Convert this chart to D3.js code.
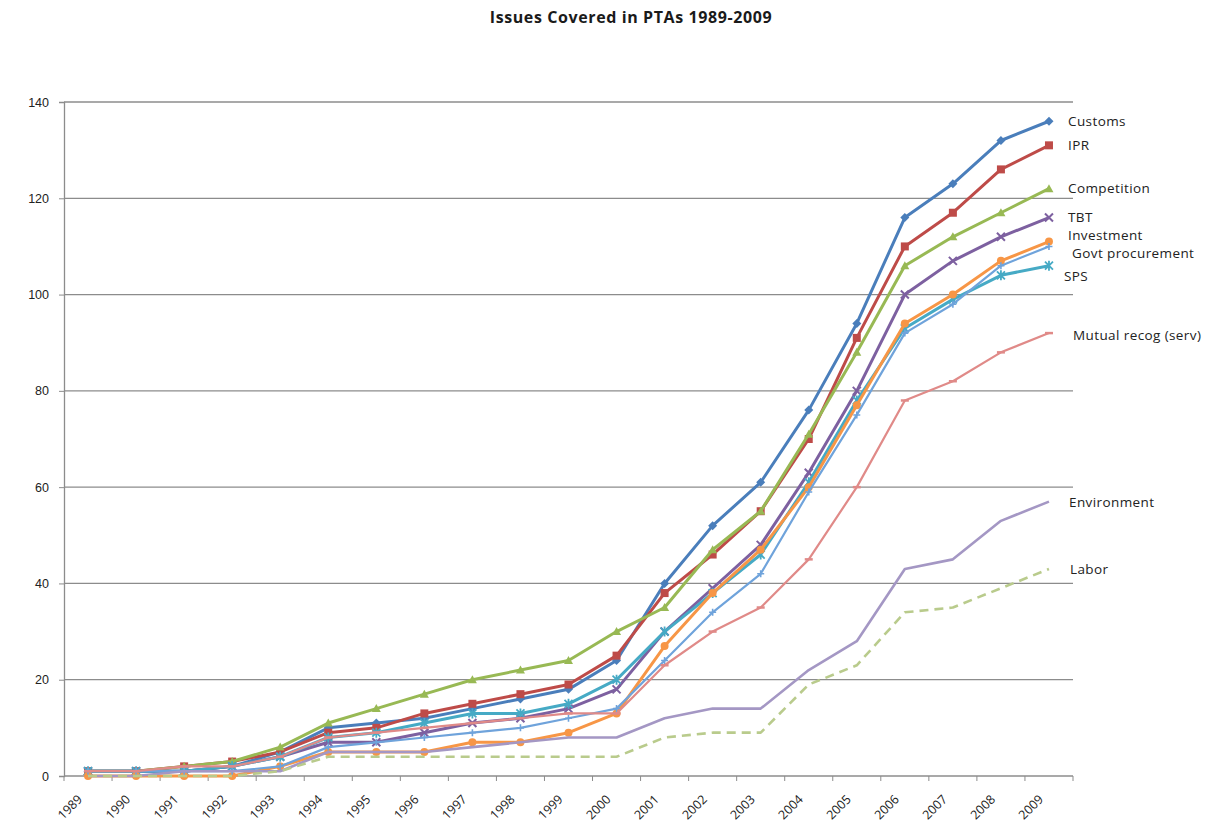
<!DOCTYPE html>
<html>
<head>
<meta charset="utf-8">
<script src="https://cdn.jsdelivr.net/npm/d3@7"></script>
<style>
  html, body { margin: 0; padding: 0; background: #ffffff; }
  svg { display: block; font-family: "Open Sans", "Liberation Sans", sans-serif; }
</style>
</head>
<body>
<svg id="chart" width="1207" height="831"></svg>
<script>
// Number of PTAs covering each issue, by year
const years = ["1989","1990","1991","1992","1993","1994","1995","1996","1997","1998","1999",
               "2000","2001","2002","2003","2004","2005","2006","2007","2008","2009"];

const customs     = [1,1,1,2,5,10,11,12,14,16,18,24,40,52,61,76,94,116,123,132,136];
const ipr         = [1,1,2,3,5,9,10,13,15,17,19,25,38,46,55,70,91,110,117,126,131];
const competition = [1,1,2,3,6,11,14,17,20,22,24,30,35,47,55,71,88,106,112,117,122];
const tbt         = [1,1,1,2,4,7,7,9,11,12,14,18,30,39,48,63,80,100,107,112,116];
const sps         = [1,1,1,2,4,8,9,11,13,13,15,20,30,38,46,61,78,93,99,104,106];
const investment  = [0,0,0,0,2,5,5,5,7,7,9,13,27,38,47,60,77,94,100,107,111];
const govtProc    = [1,1,1,1,2,6,7,8,9,10,12,14,24,34,42,59,75,92,98,106,110];
const mutualRecog = [1,1,2,2,4,8,9,10,11,12,13,13,23,30,35,45,60,78,82,88,92];
const environment = [0,0,1,1,1,5,5,5,6,7,8,8,12,14,14,22,28,43,45,53,57];
const labor       = [0,0,0,0,1,4,4,4,4,4,4,4,8,9,9,19,23,34,35,39,43];

const seriesNames = ["Customs","IPR","Competition","TBT","SPS","Investment",
                     "Govt procurement","Mutual recog (serv)","Environment","Labor"];
const seriesValues = [customs, ipr, competition, tbt, sps, investment,
                      govtProc, mutualRecog, environment, labor];

const yTicks = [0,20,40,60,80,100,120,140];
const title = "Issues Covered in PTAs 1989-2009";

// Styling per series
const styles = {
  "Customs":             {color:"#4a7ebb", width:3,   marker:"diamond"},
  "IPR":                 {color:"#be4b48", width:3,   marker:"square"},
  "Competition":         {color:"#98b954", width:3,   marker:"triangle"},
  "TBT":                 {color:"#7d60a0", width:3,   marker:"x"},
  "SPS":                 {color:"#46aac5", width:3,   marker:"star"},
  "Investment":          {color:"#f79646", width:3,   marker:"circle"},
  "Govt procurement":    {color:"#6fa3db", width:2.2, marker:"plus"},
  "Mutual recog (serv)": {color:"#e08a88", width:2.2, marker:"dash"},
  "Environment":         {color:"#a497c4", width:2.6, marker:"none"},
  "Labor":               {color:"#b9cb8c", width:2.6, marker:"none", dash:"9,6"}
};
// Vertical / horizontal nudges of the end labels where they would collide
const labelNudge = {"Investment":-6, "Govt procurement":7, "SPS":11, "Mutual recog (serv)":2, "Environment":1};
const labelDx = {"Govt procurement":4, "SPS":-4, "Mutual recog (serv)":5, "Environment":1, "Labor":2};

const svg = d3.select("#chart");
const margin = {left:64, right:134, top:102, bottom:55};
const W = 1207, H = 831;

const x = d3.scaleBand().domain(years).range([margin.left, W - margin.right]);
const y = d3.scaleLinear().domain([0,140]).range([H - margin.bottom, margin.top]);

// Title
svg.append("text")
  .attr("x", 631).attr("y", 23)
  .attr("text-anchor","middle")
  .attr("font-weight","bold")
  .attr("font-size", 16)
  .attr("letter-spacing", 0.6)
  .attr("fill","#1a1a1a")
  .text(title);

// Horizontal gridlines
svg.append("g")
  .selectAll("line")
  .data(yTicks.filter(d => d > 0))
  .join("line")
  .attr("x1", margin.left).attr("x2", W - margin.right)
  .attr("y1", d => y(d)).attr("y2", d => y(d))
  .attr("stroke","#8c8c8c").attr("stroke-width",1.3);

// Y axis
const yAxis = svg.append("g")
  .attr("transform", `translate(${margin.left},0)`)
  .call(d3.axisLeft(y).tickValues(yTicks).tickSize(5).tickPadding(10));
yAxis.select(".domain").attr("stroke","#8c8c8c").attr("stroke-width",1.3);
yAxis.selectAll(".tick line").attr("stroke","#8c8c8c");
yAxis.selectAll("text").attr("font-size",12.5).attr("fill","#222");

// X axis with ticks between categories
const xAxisG = svg.append("g")
  .attr("transform", `translate(0,${y(0)})`);
xAxisG.append("line")
  .attr("x1", margin.left).attr("x2", W - margin.right)
  .attr("stroke","#8c8c8c").attr("stroke-width",1.3);
const boundaries = years.map(yr => x(yr)).concat([x(years[years.length-1]) + x.bandwidth()]);
xAxisG.selectAll("line.tk")
  .data(boundaries)
  .join("line").attr("class","tk")
  .attr("x1", d => d).attr("x2", d => d)
  .attr("y1", 0).attr("y2", 5)
  .attr("stroke","#8c8c8c");
xAxisG.selectAll("text")
  .data(years)
  .join("text")
  .attr("transform", d => `translate(${x(d) + x.bandwidth()/2 - 8},${21}) rotate(-45)`)
  .attr("text-anchor","end")
  .attr("dy","0.35em")
  .attr("font-size",12.5)
  .attr("fill","#222")
  .text(d => d);

// Lines
const cx = yr => x(yr) + x.bandwidth()/2;
const line = d3.line().x((d,i) => cx(years[i])).y(d => y(d));

const seriesG = svg.append("g");
seriesNames.forEach((name, si) => {
  const st = styles[name];
  const vals = seriesValues[si];
  const g = seriesG.append("g");
  g.append("path")
    .datum(vals)
    .attr("d", line)
    .attr("fill","none")
    .attr("stroke", st.color)
    .attr("stroke-width", st.width)
    .attr("stroke-linejoin","round")
    .attr("stroke-dasharray", st.dash || null);

  const pts = vals.map((v,i) => [cx(years[i]), y(v)]);
  const m = g.append("g");
  pts.forEach(([px,py]) => {
    switch (st.marker) {
      case "diamond":
        m.append("path").attr("d", `M${px},${py-4.5}L${px+4.5},${py}L${px},${py+4.5}L${px-4.5},${py}Z`).attr("fill", st.color);
        break;
      case "square":
        m.append("rect").attr("x",px-4).attr("y",py-4).attr("width",8).attr("height",8).attr("fill",st.color);
        break;
      case "triangle":
        m.append("path").attr("d", `M${px},${py-4.5}L${px+4.5},${py+3.5}L${px-4.5},${py+3.5}Z`).attr("fill", st.color);
        break;
      case "x":
        m.append("path").attr("d", `M${px-4},${py-4}L${px+4},${py+4}M${px-4},${py+4}L${px+4},${py-4}`).attr("stroke", st.color).attr("stroke-width",2);
        break;
      case "star":
        m.append("path").attr("d", `M${px-4},${py-4}L${px+4},${py+4}M${px-4},${py+4}L${px+4},${py-4}M${px},${py-5}L${px},${py+5}`).attr("stroke", st.color).attr("stroke-width",1.8);
        break;
      case "circle":
        m.append("circle").attr("cx",px).attr("cy",py).attr("r",4).attr("fill",st.color);
        break;
      case "plus":
        m.append("path").attr("d", `M${px-3.5},${py}L${px+3.5},${py}M${px},${py-3.5}L${px},${py+3.5}`).attr("stroke", st.color).attr("stroke-width",1.6);
        break;
      case "dash":
        m.append("path").attr("d", `M${px-4},${py}L${px+4},${py}`).attr("stroke", st.color).attr("stroke-width",2.5);
        break;
    }
  });
});

// End-of-line labels
svg.append("g")
  .selectAll("text")
  .data(seriesNames)
  .join("text")
  .attr("x", d => x(years[years.length-1]) + x.bandwidth() - 5 + (labelDx[d] || 0))
  .attr("y", (d,i) => y(seriesValues[i][seriesValues[i].length-1]) + (labelNudge[d] || 0))
  .attr("dy","0.35em")
  .attr("font-size",13.5)
  .attr("letter-spacing",0.4)
  .attr("fill","#222")
  .text(d => d);
</script>
</body>
</html>
